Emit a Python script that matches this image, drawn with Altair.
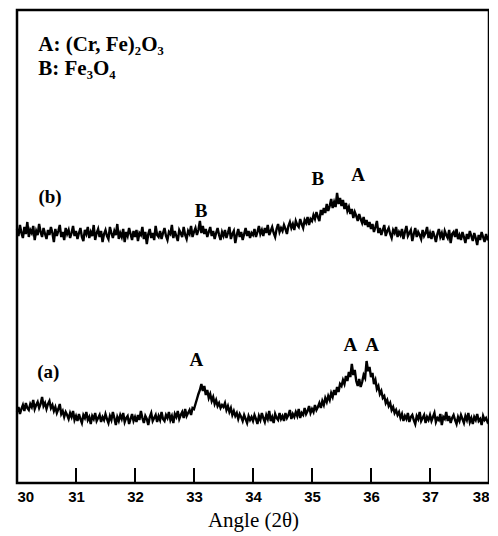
import altair as alt
import pandas as pd

# 2-theta grid, 30.000 .. 38.000 in 0.025 steps
angles = [round(30 + 0.025 * i, 3) for i in range(321)]

# trace (b) intensities (arbitrary units)
trace_b = [
    254, 247, 258, 250, 245, 256, 249, 261, 246, 253, 250, 257, 243, 252, 248, 259, 251, 246, 255, 249,
    244, 253, 248, 256, 250, 241, 254, 247, 252, 258, 246, 251, 243, 255, 249, 253, 245, 250, 257, 247,
    252, 244, 250, 255, 246, 242, 253, 249, 256, 245, 251, 247, 258, 243, 250, 254, 246, 252, 241, 249,
    253, 247, 244, 256, 250, 245, 252, 248, 259, 244, 250, 246, 254, 241, 251, 247, 255, 249, 243, 252,
    246, 253, 242, 250, 248, 256, 244, 251, 239, 249, 254, 245, 250, 243, 257, 248, 246, 252, 244, 250,
    255, 247, 243, 251, 249, 258, 245, 252, 247, 242, 253, 250, 246, 256, 248, 244, 252, 249, 257, 246,
    251, 255, 248, 253, 262, 250, 257, 249, 254, 246, 251, 256, 247, 252, 244, 250, 255, 248, 243, 251,
    247, 253, 245, 250, 256, 244, 249, 252, 240, 248, 254, 246, 251, 243, 249, 255, 247, 252, 245, 250,
    248, 254, 246, 251, 257, 249, 253, 247, 255, 250, 258, 248, 252, 256, 250, 246, 254, 259, 251, 255,
    252, 258, 254, 249, 257, 261, 255, 259, 253, 262, 258, 256, 264, 259, 255, 263, 260, 266, 258, 264,
    262, 268, 264, 271, 266, 262, 273, 268, 275, 270, 279, 272, 277, 284, 275, 281, 276, 290, 279, 285,
    277, 283, 274, 280, 272, 276, 269, 274, 265, 271, 267, 262, 269, 264, 260, 266, 258, 263, 256, 261,
    254, 259, 251, 256, 262, 250, 255, 248, 253, 258, 247, 252, 255, 249, 245, 253, 250, 256, 246, 251,
    248, 254, 244, 251, 257, 247, 250, 253, 242, 249, 255, 246, 251, 248, 244, 253, 247, 250, 256, 245,
    250, 244, 252, 247, 241, 249, 254, 246, 250, 243, 252, 248, 245, 253, 240, 249, 251, 246, 254, 244,
    248, 243, 251, 246, 240, 249, 244, 252, 247, 242, 250, 245, 238, 248, 243, 251, 246, 241, 249, 244,
    245,
]

# trace (a) intensities (arbitrary units)
trace_a = [
    71, 76, 69, 74, 78, 72, 80, 75, 73, 79, 76, 83, 74, 78, 81, 75, 79, 86, 77, 80,
    74, 79, 82, 75, 78, 72, 76, 70, 74, 79, 69, 72, 66, 71, 68, 64, 70, 66, 72, 63,
    67, 62, 69, 64, 60, 68, 65, 71, 63, 66, 59, 67, 64, 70, 62, 65, 68, 61, 66, 63,
    69, 64, 60, 67, 63, 71, 65, 58, 66, 62, 68, 64, 70, 61, 65, 67, 59, 64, 69, 62,
    66, 61, 68, 63, 72, 65, 60, 67, 64, 58, 66, 70, 62, 65, 68, 61, 67, 63, 71, 64,
    62, 68, 65, 71, 63, 67, 60, 69, 66, 72, 64, 68, 71, 65, 74, 67, 70, 73, 68, 75,
    74, 79, 84, 89, 93, 99, 92, 97, 88, 93, 85, 89, 82, 86, 79, 83, 77, 80, 75, 78,
    76, 80, 73, 77, 71, 75, 68, 72, 67, 70, 64, 69, 66, 62, 68, 64, 60, 67, 63, 66,
    62, 68, 64, 59, 67, 63, 70, 65, 61, 68, 64, 72, 62, 66, 60, 69, 65, 63, 70, 64,
    67, 62, 70, 65, 68, 73, 64, 69, 66, 71, 67, 74, 65, 70, 68, 75, 69, 72, 77, 70,
    74, 71, 78, 73, 76, 80, 75, 82, 78, 85, 81, 87, 83, 90, 86, 93, 88, 96, 91, 99,
    97, 103, 99, 107, 102, 111, 106, 119, 108, 113, 102, 97, 104, 96, 101, 108, 105, 122, 112, 116,
    106, 110, 99, 103, 94, 97, 89, 92, 85, 87, 80, 83, 77, 80, 73, 76, 70, 73, 68, 71,
    65, 69, 62, 67, 64, 70, 61, 66, 68, 63, 59, 67, 64, 71, 62, 65, 68, 60, 66, 63,
    68, 62, 66, 70, 61, 65, 63, 69, 58, 66, 64, 71, 62, 67, 60, 65, 68, 63, 59, 66,
    62, 68, 64, 60, 67, 63, 70, 61, 65, 59, 66, 63, 69, 62, 64, 58, 67, 63, 65, 61,
    63,
]

tick_values = [30, 31, 32, 33, 34, 35, 36, 37, 38]
inner_ticks = [31, 32, 33, 34, 35, 36, 37]

peak_labels = ["(b)", "B", "B", "A", "(a)", "A", "A", "A"]
peak_x = [30.56, 33.12, 35.10, 35.78, 30.53, 33.04, 35.65, 36.02]
peak_y = [286, 272, 304, 308, 111, 123, 138, 138]

legend_lines = ["A: (Cr, Fe)\u2082O\u2083", "B: Fe\u2083O\u2084"]
legend_x = [30.36, 30.36]
legend_y = [438, 414]

df = pd.DataFrame({
    "angle": angles + angles,
    "intensity": trace_b + trace_a,
    "series": ["b"] * len(angles) + ["a"] * len(angles),
})

xs = alt.Scale(domain=[30, 38], nice=False, zero=False)
ys = alt.Scale(domain=[0, 473], nice=False, zero=False)

lines = alt.Chart(df).mark_line(color="black", strokeWidth=2.4).encode(
    x=alt.X("angle:Q", scale=xs,
            axis=alt.Axis(values=tick_values, title="Angle (2\u03b8)", format="d",
                          domain=False, ticks=False, grid=False)),
    y=alt.Y("intensity:Q", scale=ys, axis=None),
    detail="series:N",
)

ticks = alt.Chart(pd.DataFrame({"t": inner_ticks})).mark_rule(
    color="black", strokeWidth=2
).encode(
    x=alt.X("t:Q", scale=xs),
    y=alt.value(458),
    y2=alt.value(473),
)

labels = alt.Chart(pd.DataFrame({"x": peak_x, "y": peak_y, "t": peak_labels})).mark_text(
    font="Liberation Serif", fontWeight="bold", fontSize=19, color="black"
).encode(
    x=alt.X("x:Q", scale=xs),
    y=alt.Y("y:Q", scale=ys),
    text="t:N",
)

legend = alt.Chart(pd.DataFrame({"x": legend_x, "y": legend_y, "t": legend_lines})).mark_text(
    font="Liberation Serif", fontWeight="bold", fontSize=21, color="black", align="left"
).encode(
    x=alt.X("x:Q", scale=xs),
    y=alt.Y("y:Q", scale=ys),
    text="t:N",
)

chart = alt.layer(lines, ticks, labels, legend).properties(
    width=472, height=473,
    autosize=alt.AutoSizeParams(type="none"),
    padding={"left": 9, "top": 2, "right": 0, "bottom": 53},
).configure_view(
    stroke="black", strokeWidth=2.5
).configure_axis(
    labelFont="Liberation Sans", labelFontWeight="bold", labelFontSize=15,
    labelColor="black", labelPadding=6,
    titleFont="Liberation Serif", titleFontWeight="normal", titleFontSize=21,
    titleColor="black", titlePadding=5,
)

chart.save("out.html", embed_options={"renderer": "svg", "actions": False})
